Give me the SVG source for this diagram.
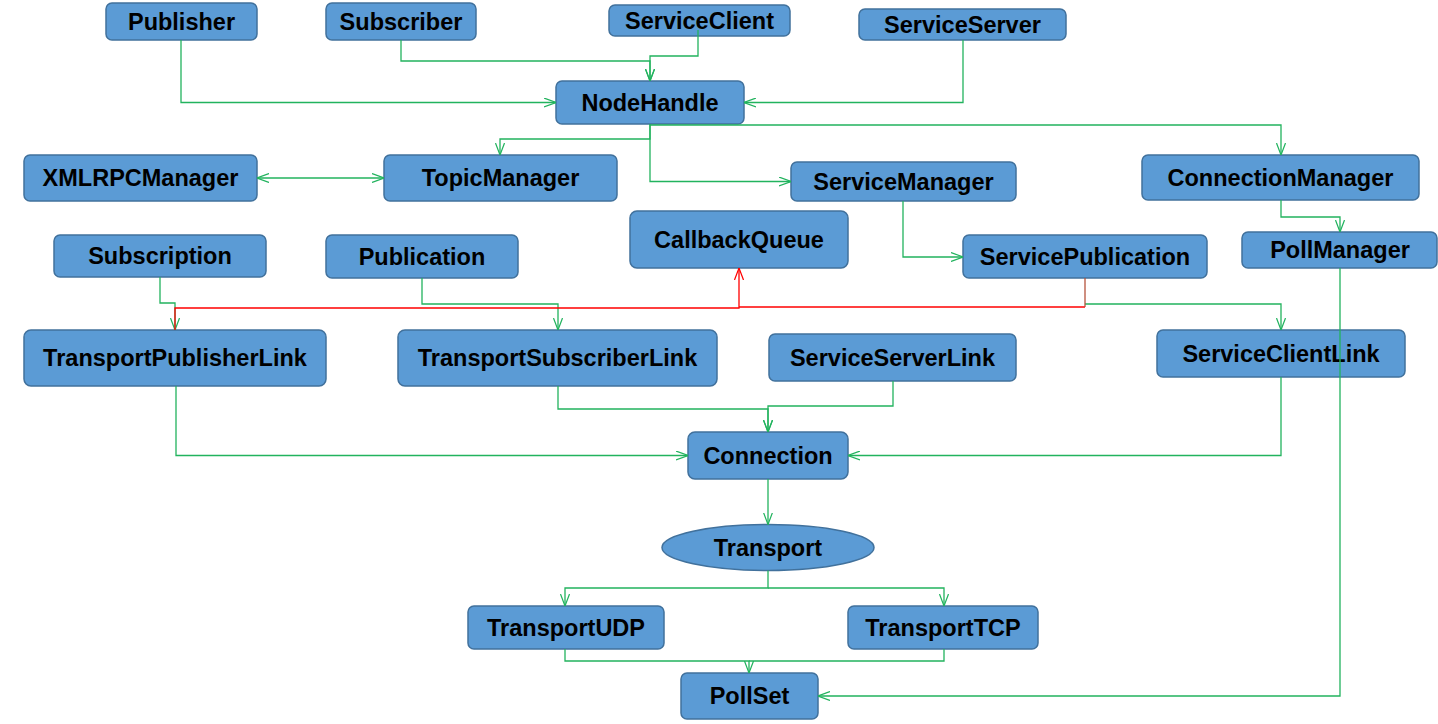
<svg xmlns="http://www.w3.org/2000/svg" width="1438" height="724" viewBox="0 0 1438 724">
<style>
.n rect, .n ellipse { fill: #5B9BD5; stroke: #41719C; stroke-width: 1.5; }
.n text { font-family: "Liberation Sans", Arial, sans-serif; font-weight: bold; font-size: 23.5px; fill: #000; text-anchor: middle; }
.c path { fill: none; stroke-width: 1.3; }
.g { stroke: #22B35E; }
.r { stroke: #FF0000; }
.b { stroke: #B5533C; }
</style>
<defs>
<marker id="ag" viewBox="0 0 12 10" refX="12" refY="5" markerWidth="12" markerHeight="10" markerUnits="userSpaceOnUse" orient="auto-start-reverse">
<path d="M0,0.5 L12,5 L0,9.5" fill="none" stroke="#22B35E" stroke-width="1.2"/>
</marker>
<marker id="ar" viewBox="0 0 12 10" refX="12" refY="5" markerWidth="12" markerHeight="10" markerUnits="userSpaceOnUse" orient="auto-start-reverse">
<path d="M0,0.5 L12,5 L0,9.5" fill="none" stroke="#FF0000" stroke-width="1.2"/>
</marker>
</defs>
<rect width="1438" height="724" fill="#fff"/>
<g id="Publisher" class="n"><rect x="106" y="3" width="151" height="37" rx="6"/><text x="181.5" y="29.5">Publisher</text></g>
<g id="Subscriber" class="n"><rect x="326" y="3" width="150" height="37" rx="6"/><text x="401" y="29.5">Subscriber</text></g>
<g id="ServiceClient" class="n"><rect x="609" y="5" width="181" height="31" rx="6"/><text x="699.5" y="28.5">ServiceClient</text></g>
<g id="ServiceServer" class="n"><rect x="859" y="9" width="207" height="31" rx="6"/><text x="962.5" y="32.5">ServiceServer</text></g>
<g id="NodeHandle" class="n"><rect x="556" y="81" width="188" height="43" rx="6"/><text x="650" y="110.5">NodeHandle</text></g>
<g id="XMLRPCManager" class="n"><rect x="24" y="155" width="233" height="46" rx="6"/><text x="140.5" y="186">XMLRPCManager</text></g>
<g id="TopicManager" class="n"><rect x="384" y="155" width="233" height="46" rx="6"/><text x="500.5" y="186">TopicManager</text></g>
<g id="ServiceManager" class="n"><rect x="791" y="162" width="225" height="39" rx="6"/><text x="903.5" y="189.5">ServiceManager</text></g>
<g id="ConnectionManager" class="n"><rect x="1142" y="155" width="277" height="45" rx="6"/><text x="1280.5" y="185.5">ConnectionManager</text></g>
<g id="CallbackQueue" class="n"><rect x="630" y="211" width="218" height="57" rx="7"/><text x="739" y="247.5">CallbackQueue</text></g>
<g id="Subscription" class="n"><rect x="54" y="235" width="212" height="42" rx="6"/><text x="160" y="264">Subscription</text></g>
<g id="Publication" class="n"><rect x="326" y="235" width="192" height="43" rx="6"/><text x="422" y="264.5">Publication</text></g>
<g id="ServicePublication" class="n"><rect x="963" y="235" width="244" height="43" rx="6"/><text x="1085" y="264.5">ServicePublication</text></g>
<g id="PollManager" class="n"><rect x="1242" y="232" width="195" height="36" rx="6"/><text x="1340" y="258">PollManager</text></g>
<g id="TransportPublisherLink" class="n"><rect x="24" y="330" width="302" height="56" rx="7"/><text x="175" y="366">TransportPublisherLink</text></g>
<g id="TransportSubscriberLink" class="n"><rect x="398" y="330" width="319" height="56" rx="7"/><text x="557.5" y="366">TransportSubscriberLink</text></g>
<g id="ServiceServerLink" class="n"><rect x="769" y="334" width="247" height="47" rx="6"/><text x="892.5" y="365.5">ServiceServerLink</text></g>
<g id="ServiceClientLink" class="n"><rect x="1157" y="330" width="248" height="47" rx="6"/><text x="1281" y="361.5">ServiceClientLink</text></g>
<g id="Connection" class="n"><rect x="688" y="432" width="160" height="47" rx="7"/><text x="768" y="463.5">Connection</text></g>
<g id="Transport" class="n"><ellipse cx="768" cy="547.5" rx="106" ry="23"/><text x="768" y="555.5">Transport</text></g>
<g id="TransportUDP" class="n"><rect x="468" y="606" width="196" height="43" rx="6"/><text x="566" y="635.5">TransportUDP</text></g>
<g id="TransportTCP" class="n"><rect x="848" y="606" width="190" height="43" rx="6"/><text x="943" y="635.5">TransportTCP</text></g>
<g id="PollSet" class="n"><rect x="681" y="673" width="137" height="46" rx="6"/><text x="749.5" y="704">PollSet</text></g>
<g id="connectors" class="c">
<path class="g" d="M181,40 V102.5 H556" marker-end="url(#ag)"/>
<path class="g" d="M401,40 V61 H650 V81" marker-end="url(#ag)"/>
<path class="g" d="M698,30 V56 H650 V81" marker-end="url(#ag)"/>
<path class="g" d="M963,40 V102.5 H744" marker-end="url(#ag)"/>
<path class="g" d="M650,124 V139 H500 V155" marker-end="url(#ag)"/>
<path class="g" d="M650,124 V181.5 H791" marker-end="url(#ag)"/>
<path class="g" d="M650,125 H1281 V155" marker-end="url(#ag)"/>
<path class="g" d="M257,178 H384" marker-start="url(#ag)" marker-end="url(#ag)"/>
<path class="g" d="M903,201 V257 H963" marker-end="url(#ag)"/>
<path class="g" d="M1281,200 V217 H1340 V232" marker-end="url(#ag)"/>
<path class="g" d="M160,277 V303 H175 V330" marker-end="url(#ag)"/>
<path class="g" d="M422,278 V304 H558 V330" marker-end="url(#ag)"/>
<path class="g" d="M1085,304 H1281 V330" marker-end="url(#ag)"/>
<path class="r" d="M1085,307 H739"/>
<path class="b" d="M1085,278 V307"/>
<path class="r" d="M175,330 V308 H739 V268" marker-end="url(#ar)"/>
<path class="g" d="M1340,268 V696 H818" marker-end="url(#ag)"/>
<path class="g" d="M176,386 V455.5 H688" marker-end="url(#ag)"/>
<path class="g" d="M558,386 V409 H768 V432" marker-end="url(#ag)"/>
<path class="g" d="M893,381 V406 H768 V432" marker-end="url(#ag)"/>
<path class="g" d="M1281,377 V455.5 H848" marker-end="url(#ag)"/>
<path class="g" d="M768,479 V524.5" marker-end="url(#ag)"/>
<path class="g" d="M768,570.5 V588 H565 V606" marker-end="url(#ag)"/>
<path class="g" d="M768,588 H944 V606" marker-end="url(#ag)"/>
<path class="g" d="M565,649 V661 H749 V673" marker-end="url(#ag)"/>
<path class="g" d="M944,649 V661 H749" />
</g>
</svg>
